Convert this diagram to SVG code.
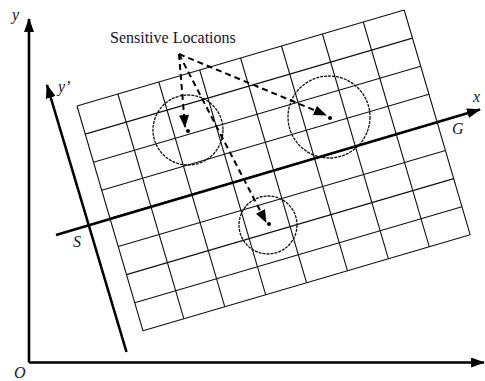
<svg xmlns="http://www.w3.org/2000/svg" width="485" height="381" viewBox="0 0 485 381">
<style>
.grid line{stroke:#111;stroke-width:1.1;fill:none}
.axis{stroke:#000;stroke-width:2.6;fill:none}
.zone{stroke:#111;stroke-width:1.3;fill:none;stroke-dasharray:3 1}
.dot{fill:#000}
.conn{stroke:#000;stroke-width:2;fill:none;stroke-dasharray:6 4}
.lbl{font-family:"Liberation Serif","Times New Roman",serif;font-style:italic;font-size:16px;fill:#14142e}
.title{font-family:"Liberation Serif","Times New Roman",serif;font-size:16px;fill:#14142e}
</style>
<defs>
<marker id="ah" markerUnits="userSpaceOnUse" markerWidth="14" markerHeight="10" refX="13" refY="5" orient="auto">
<path d="M0,0 L14,5 L0,10 Z" fill="#000"/>
</marker>
<marker id="dh" markerUnits="userSpaceOnUse" markerWidth="13" markerHeight="10" refX="12" refY="5" orient="auto">
<path d="M0,0 L13,5 L0,10 Z" fill="#000"/>
</marker>
</defs>
<rect width="485" height="381" fill="#fff"/>
<g id="grid" class="grid">
<line x1="77" y1="106" x2="143" y2="330.8"/>
<line x1="117.9" y1="94" x2="183.9" y2="318.8"/>
<line x1="158.8" y1="82" x2="224.8" y2="306.8"/>
<line x1="199.7" y1="70" x2="265.7" y2="294.8"/>
<line x1="240.6" y1="58" x2="306.6" y2="282.8"/>
<line x1="281.5" y1="46" x2="347.5" y2="270.8"/>
<line x1="322.4" y1="34" x2="388.4" y2="258.8"/>
<line x1="363.3" y1="22" x2="429.3" y2="246.8"/>
<line x1="404.2" y1="10" x2="470.2" y2="234.8"/>
<line x1="77" y1="106" x2="404.2" y2="10"/>
<line x1="85.25" y1="134.1" x2="412.45" y2="38.1"/>
<line x1="93.5" y1="162.2" x2="420.7" y2="66.2"/>
<line x1="101.75" y1="190.3" x2="428.95" y2="94.3"/>
<line x1="110" y1="218.4" x2="437.2" y2="122.4"/>
<line x1="118.25" y1="246.5" x2="445.45" y2="150.5"/>
<line x1="126.5" y1="274.6" x2="453.7" y2="178.6"/>
<line x1="134.75" y1="302.7" x2="461.95" y2="206.7"/>
<line x1="143" y1="330.8" x2="470.2" y2="234.8"/>
</g>
<g id="axes">
<line class="axis" x1="29" y1="362.5" x2="29" y2="19" marker-end="url(#ah)"/>
<line class="axis" x1="29" y1="362.5" x2="484" y2="362.5" marker-end="url(#ah)"/>
<line class="axis" x1="126.5" y1="352" x2="47" y2="85" marker-end="url(#ah)"/>
<line class="axis" x1="56" y1="235" x2="480" y2="109.5" marker-end="url(#ah)"/>
<text class="lbl" x="12" y="20">y</text>
<text class="lbl" x="14" y="378">O</text>
<text class="lbl" x="58" y="92">y’</text>
<text class="lbl" x="473" y="102">x</text>
<text class="lbl" x="452" y="134">G</text>
<text class="lbl" x="73" y="247">S</text>
</g>
<g id="location1">
<circle class="zone" cx="188" cy="130" r="35"/>
<circle class="dot" cx="188" cy="131" r="2"/>
</g>
<g id="location2">
<circle class="zone" cx="329" cy="117" r="41"/>
<circle class="dot" cx="330" cy="118" r="2"/>
</g>
<g id="location3">
<circle class="zone" cx="268" cy="225" r="29"/>
<circle class="dot" cx="269" cy="224" r="2"/>
</g>
<g id="label">
<text class="title" x="110" y="43">Sensitive Locations</text>
</g>
<g id="connectors">
<line class="conn" x1="179" y1="54" x2="185" y2="127" marker-end="url(#dh)"/>
<line class="conn" x1="179" y1="54" x2="326" y2="115" marker-end="url(#dh)"/>
<line class="conn" x1="179" y1="54" x2="266" y2="222" marker-end="url(#dh)"/>
</g>
</svg>
